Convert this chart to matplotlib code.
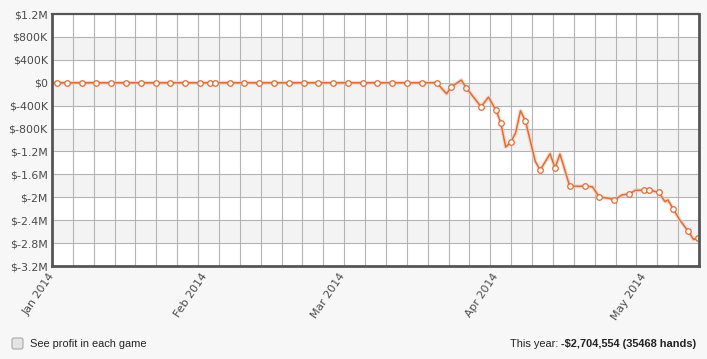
import matplotlib
matplotlib.use("Agg")
import matplotlib.pyplot as plt
import matplotlib.dates as mdates
from matplotlib.patches import FancyBboxPatch
from matplotlib.transforms import IdentityTransform
import numpy as np
import pandas as pd

START = pd.Timestamp("2014-01-01")

# points of the profit line, day offsets from Jan 1 2014
day_offsets = [0, 1, 3, 6, 9, 12, 15, 18, 21, 24, 27, 30, 32, 33, 36, 39, 42, 45,
               48, 51, 54, 57, 60, 63, 66, 69, 72, 75, 78,
               80, 81, 83, 84, 87, 88.5, 90, 91, 92, 93, 94, 95, 96, 98, 99,
               101, 102, 103, 105, 108, 109.6, 111, 113, 114, 115.6, 117, 118.3,
               120, 121, 123, 124.3, 124.9, 126, 127.3, 129, 130.1, 131]
profit_k = [0] * 29 + [
    -193, -70, 46, -88, -421, -252, -473, -696, -1125, -1043, -877, -490, -666,
    -1374, -1523, -1239, -1488, -1245, -1809, -1806, -1818, -1997, -2019, -2051,
    -1958, -1944, -1879, -1876, -1876, -1911, -2076, -2046, -2209, -2396, -2593,
    -2738, -2705]
# line vertices drawn without a marker
no_marker_days = [0, 80, 83, 88.5, 92, 94, 95, 98, 101, 103, 109.6, 113, 115.6,
                  118.3, 124.3, 124.9, 127.3, 130.1]

month_ticks = ["2014-01-01", "2014-02-01", "2014-03-01", "2014-04-01", "2014-05-01"]
month_labels = ["Jan 2014", "Feb 2014", "Mar 2014", "Apr 2014", "May 2014"]
y_ticks = [1.2e6, 8e5, 4e5, 0, -4e5, -8e5, -1.2e6, -1.6e6, -2e6, -2.4e6, -2.8e6, -3.2e6]
y_labels = ["$1.2M", "$800K", "$400K", "$0", "$-400K", "$-800K", "$-1.2M",
            "$-1.6M", "$-2M", "$-2.4M", "$-2.8M", "$-3.2M"]
x_end_days = 131.2

checkbox_label = "See profit in each game"
year_label = "This year: "
year_total = "-$2,704,554 (35468 hands)"

LINE = "#e06d35"
BG = "#f7f7f7"

dates = START + pd.to_timedelta(day_offsets, unit="D")
profit = np.array(profit_k) * 1000.0
marked = np.array([d not in no_marker_days for d in day_offsets])

fig = plt.figure(figsize=(7.07, 3.59), dpi=100, facecolor=BG)
ax = fig.add_axes([52 / 707, 1 - 266 / 359, 647 / 707, 252 / 359])
ax.set_facecolor("white")

x0 = mdates.date2num(START)
x1 = mdates.date2num(START + pd.Timedelta(days=x_end_days))
ax.set_xlim(x0, x1)
ax.set_ylim(y_ticks[-1], y_ticks[0])

# alternating bands + grid
for i in range(1, len(y_ticks) - 1, 2):
    ax.axhspan(y_ticks[i + 1], y_ticks[i], color="#f3f3f3", lw=0, zorder=0)
for yv in y_ticks[1:-1]:
    ax.axhline(yv, color="#b4b4b4", lw=0.8, zorder=1)
for xv in np.linspace(x0, x1, 32)[1:-1]:
    ax.axvline(xv, color="#b4b4b4", lw=0.8, zorder=1)

# line with soft halo, then markers
ax.plot(dates, profit, color="#f5cdb6", lw=2.8, alpha=0.7, zorder=2,
        solid_joinstyle="round")
ax.plot(dates, profit, color=LINE, lw=1.1, zorder=3, solid_joinstyle="round")
ax.plot(dates[marked], profit[marked], ls="none", marker="o", ms=4,
        mfc="white", mec=LINE, mew=0.9, zorder=4)

ax.set_yticks(y_ticks)
ax.set_yticklabels(y_labels)
ax.set_xticks(pd.to_datetime(month_ticks))
ax.set_xticklabels(month_labels, rotation=56, ha="right", va="center",
                   rotation_mode="anchor")
ax.tick_params(axis="both", length=0, labelcolor="#4a4a4a", labelsize=7.9)
ax.tick_params(axis="y", pad=3)
ax.tick_params(axis="x", pad=6)
for s in ax.spines.values():
    s.set_color("#555555")
    s.set_linewidth(2)
    s.set_zorder(5)
ax.spines["top"].set_linewidth(1.6)

# footer: checkbox + totals
box = FancyBboxPatch((12, 359 - 349), 11, 11, boxstyle="round,pad=0,rounding_size=2",
                     transform=IdentityTransform(), fc="#e4e4e4", ec="#a8a8a8", lw=0.8)
fig.add_artist(box)
fig.text(30 / 707, 1 - 344 / 359, checkbox_label, va="center", fontsize=7.9,
         family="Liberation Sans", color="#222222")
total = fig.text(696 / 707, 1 - 344 / 359, year_total, ha="right", va="center",
                 fontsize=7.9, family="Liberation Sans", fontweight="bold",
                 color="#222222")
ax.annotate(year_label, xy=(0, 0.5), xycoords=total, ha="right", va="center",
            fontsize=7.9, family="Liberation Sans", color="#222222",
            annotation_clip=False)

plt.savefig("out.png", dpi=100, facecolor=BG)
plt.close()
